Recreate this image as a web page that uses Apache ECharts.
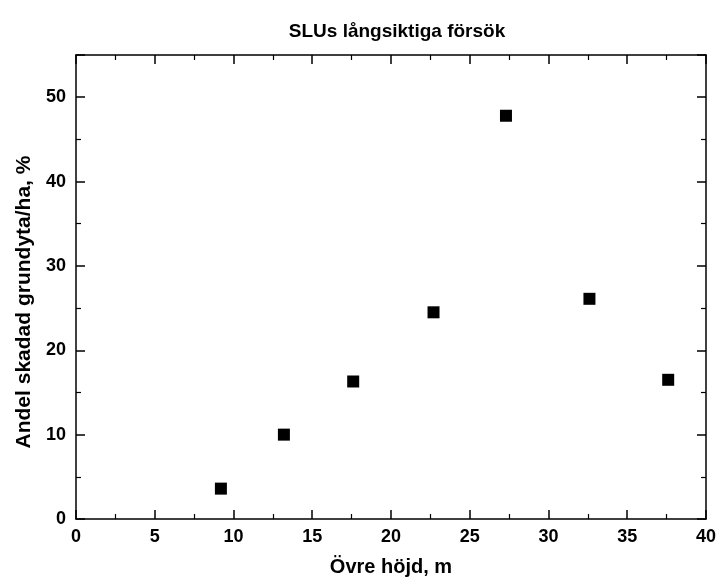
<!DOCTYPE html>
<html>
<head>
<meta charset="utf-8">
<script src="https://cdn.jsdelivr.net/npm/echarts@6/dist/echarts.min.js"></script>
<style>
html, body { margin: 0; padding: 0; background: #fff; }
#chart { width: 719px; height: 583px; }
</style>
</head>
<body>
<div id="chart"></div>
<script>
var hojd = [9.2, 13.2, 17.6, 22.7, 27.3, 32.6, 37.6];
var andel = [3.6, 10.0, 16.3, 24.5, 47.8, 26.1, 16.5];

function getPoints(xs, ys) {
    var arr = [];
    for (var i = 0; i < xs.length; i++) {
        arr.push([xs[i], ys[i]]);
    }
    return arr;
}

var font = 'Liberation Sans, Arial, sans-serif';
var lineStyle = { color: '#000', width: 1.5 };

function axisBase(show) {
    return {
        axisLine: { show: true, onZero: false, lineStyle: lineStyle },
        axisTick: { show: true, inside: true, length: 9, lineStyle: lineStyle },
        minorTick: { show: true, splitNumber: 2, length: 5, lineStyle: { color: '#000', width: 1.2 } },
        splitLine: { show: false },
        axisLabel: show ? { show: true, showMaxLabel: false, color: '#000', fontFamily: font, fontWeight: 'bold', fontSize: 18 } : { show: false }
    };
}

var chart = echarts.init(document.getElementById('chart'));

var xBottom = Object.assign(axisBase(true), {
    type: 'value', position: 'bottom', min: 0, max: 40, interval: 5,
    name: 'Övre höjd, m', nameLocation: 'middle', nameGap: 38,
    nameTextStyle: { color: '#000', fontFamily: font, fontWeight: 'bold', fontSize: 20 }
});
xBottom.axisLabel.margin = 9;
xBottom.axisLabel.showMaxLabel = true;
var xTop = Object.assign(axisBase(false), {
    type: 'value', position: 'top', min: 0, max: 40, interval: 5
});
var yLeft = Object.assign(axisBase(true), {
    type: 'value', position: 'left', min: 0, max: 55, interval: 10,
    name: 'Andel skadad grundyta/ha, %', nameLocation: 'middle', nameGap: 41,
    nameTextStyle: { color: '#000', fontFamily: font, fontWeight: 'bold', fontSize: 21, padding: [0, 30, 0, 0] }
});
yLeft.axisLabel.margin = 10;
var yRight = Object.assign(axisBase(false), {
    type: 'value', position: 'right', min: 0, max: 55, interval: 10
});

chart.setOption({
    backgroundColor: '#fff',
    animation: false,
    title: {
        text: 'SLUs långsiktiga försök',
        left: 392, top: 17, textAlign: 'center',
        textStyle: { color: '#000', fontFamily: font, fontWeight: 'bold', fontSize: 19 }
    },
    grid: { left: 76, right: 13, top: 55, bottom: 64 },
    xAxis: [xBottom, xTop],
    yAxis: [yLeft, yRight],
    series: [{
        type: 'scatter',
        xAxisIndex: 0, yAxisIndex: 0,
        symbol: 'rect',
        symbolSize: 12,
        itemStyle: { color: '#000', opacity: 1 },
        data: getPoints(hojd, andel)
    }]
});
</script>
</body>
</html>
